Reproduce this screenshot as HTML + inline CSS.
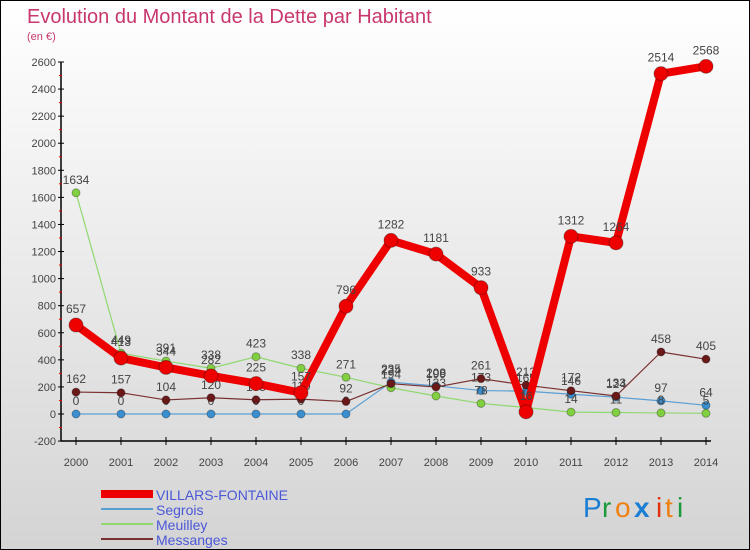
<!DOCTYPE html>
<html><head><meta charset="utf-8"><style>
body{margin:0}
#c{width:750px;height:550px;position:relative;overflow:hidden;box-sizing:border-box;border:1px solid #000;background:linear-gradient(#fff,#d4d4d4);font-family:"Liberation Sans",sans-serif}
text{font-family:"Liberation Sans",sans-serif}
</style></head><body>
<div id="c">
<svg id="s" width="750" height="550">
<text x="26" y="22" font-size="20" fill="#c8386e">Evolution du Montant de la Dette par Habitant</text>
<text x="26" y="39" font-size="11" fill="#c8386e">(en €)</text>
<g id="axes"></g><g id="series"></g><g id="legend"></g>
<g font-size="28">
<text x="582" y="516" fill="#1a7fd4">P</text><text x="601" y="516" fill="#1a9a3a">r</text><text x="614" y="516" fill="#f08010">o</text><text x="633" y="516" fill="#1a7fd4" font-weight="bold">x</text><text x="655" y="516" fill="#e03010">i</text><text x="664" y="516" fill="#f08010">t</text><text x="676" y="516" fill="#1a9a3a">i</text>
</g>
</svg>
</div>
<script>
const years=[2000,2001,2002,2003,2004,2005,2006,2007,2008,2009,2010,2011,2012,2013,2014];
const villars=[657,413,344,282,225,157,796,1282,1181,933,16,1312,1264,2514,2568];
const segrois=[0,0,0,0,0,0,0,235,208,173,169,146,124,97,64];
const meuilley=[1634,449,391,338,423,338,271,194,133,78,48,14,11,8,5];
const messanges=[162,157,104,120,105,110,92,224,199,261,213,172,133,458,405];
const yTicks=[-200,0,200,400,600,800,1000,1200,1400,1600,1800,2000,2200,2400,2600];
const NS="http://www.w3.org/2000/svg";
const xS=y=>75+(y-2000)*45;
const yS=v=>413-v*352/2600;
function mk(t,a,p){const e=document.createElementNS(NS,t);for(const k in a)e.setAttribute(k,a[k]);p.appendChild(e);return e;}
const ax=document.getElementById('axes');
let l=mk('line',{x1:60,x2:60,y1:yS(2600),y2:yS(-200),stroke:'#000','stroke-width':1.5},ax);


l=mk('line',{x1:60,x2:710,y1:440,y2:440,stroke:'#000','stroke-width':1.5},ax);


yTicks.forEach((v,i)=>{
 mk('line',{x1:57,x2:63,y1:yS(v),y2:yS(v),stroke:'#000'},ax);
 if(i<yTicks.length-1)mk('line',{x1:58,x2:61,y1:yS(v+100),y2:yS(v+100),stroke:'#e00'},ax);
 const t=mk('text',{x:55,y:yS(v)+4,'text-anchor':'end','font-size':11,fill:'#444'},ax);t.textContent=v;
 
 
});
years.forEach(y=>{
 mk('line',{x1:xS(y),x2:xS(y),y1:436,y2:444,stroke:'#000'},ax);
 const t=mk('text',{x:xS(y),y:465,'text-anchor':'middle','font-size':11,fill:'#444'},ax);t.textContent=y;
 
 
});
const sg=document.getElementById('series');
function series(vals,color,w,r,name,dot){
 const g=mk('g',{},sg);
 
 
 mk('polyline',{points:vals.map((v,i)=>xS(years[i])+','+yS(v)).join(' '),fill:'none',stroke:color,'stroke-width':w,'stroke-linejoin':'round'},g);
 vals.forEach((v,i)=>{
  const c=mk('circle',{cx:xS(years[i]),cy:yS(v),r:r,fill:dot,stroke:'rgba(0,0,0,0.3)'},g);
  
  
  const t=mk('text',{x:xS(years[i]),y:yS(v)-r-5,'text-anchor':'middle','font-size':12,fill:'#444'},g);t.textContent=v;
  
  
 });
}
series(segrois,'#5a9fd4',1.2,4,'segrois-series','#3a8fd0');
series(meuilley,'#90d870',1.2,4,'meuilley-series','#80d040');
series(messanges,'#7a3030',1.2,4,'messanges-series','#6a1818');
series(villars,'#ee0000',8,7,'villars-fontaine-series','#ee0000');
const lg=document.getElementById('legend');
const items=[['VILLARS-FONTAINE','#ee0000',8],['Segrois','#5a9fd4',2],['Meuilley','#90d870',2],['Messanges','#7a3030',2]];
items.forEach((it,i)=>{
 const y=493+i*15;
 const g=mk('g',{},lg);
 
 
 mk('line',{x1:100,x2:152,y1:y,y2:y,stroke:it[1],'stroke-width':it[2]},g);
 const t=mk('text',{x:155,y:y+6,'font-size':14,fill:'#4a58d8'},g);t.textContent=it[0];
});
</script>
</body></html>
